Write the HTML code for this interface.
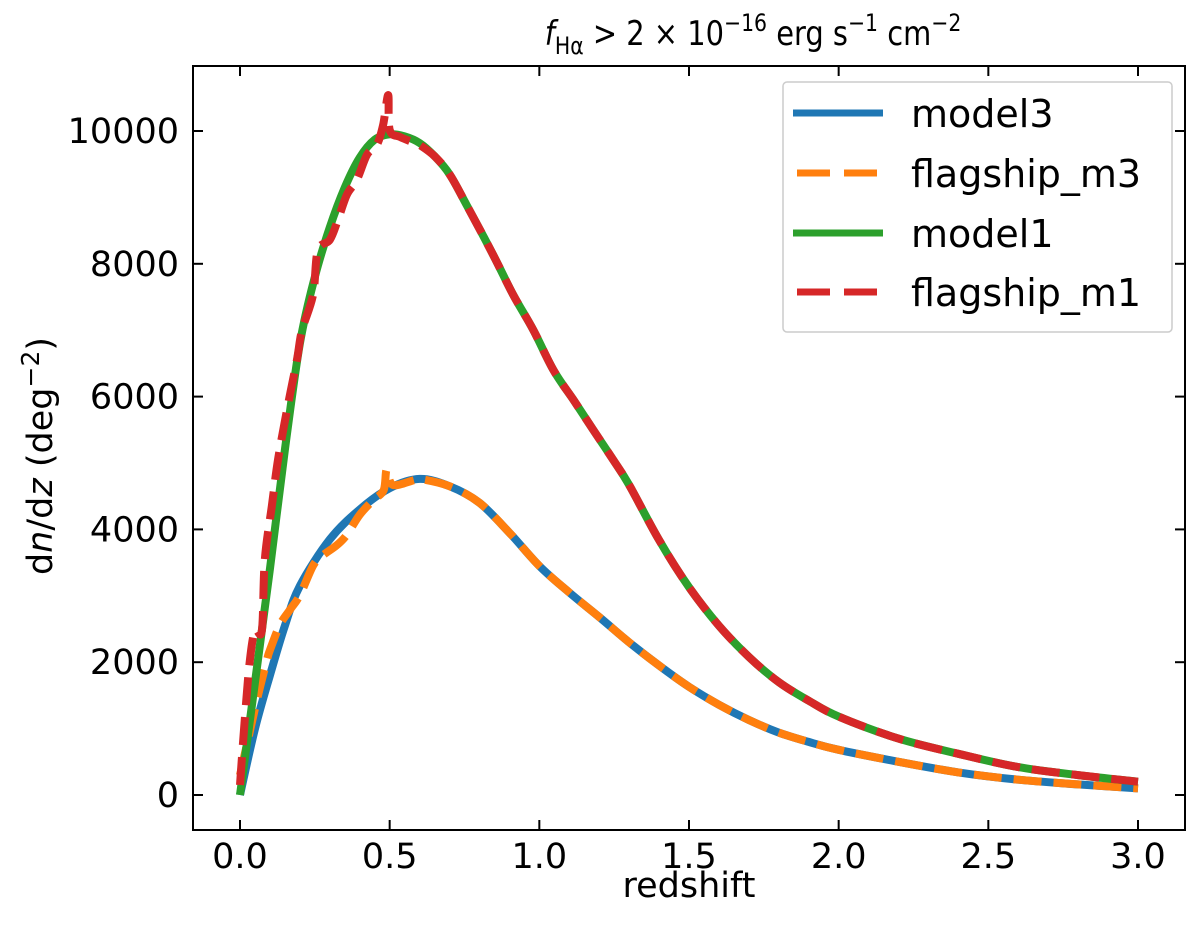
<!DOCTYPE html>
<html><head><meta charset="utf-8"><style>
body{margin:0;background:#fff}
svg text{font-family:"DejaVu Sans","Liberation Sans",sans-serif;fill:#000}
</style></head><body>
<svg id="chart" width="1200" height="925" viewBox="0 0 1200 925" xmlns="http://www.w3.org/2000/svg">
<g id="plot"></g>
<g id="axes"></g>
<text transform="translate(753,45) scale(0.85,1)" x="0" y="0" font-size="34" text-anchor="middle"><tspan font-style="italic">f</tspan><tspan font-size="24" dy="9">Hα</tspan><tspan dy="-9"> &gt; 2 × 10</tspan><tspan font-size="24" dy="-14">−16</tspan><tspan dy="14"> erg s</tspan><tspan font-size="24" dy="-14">−1</tspan><tspan dy="14"> cm</tspan><tspan font-size="24" dy="-14">−2</tspan></text>
<text x="689" y="897" font-size="35" text-anchor="middle">redshift</text>
<text transform="translate(52,456) rotate(-90)" font-size="35" text-anchor="middle">d<tspan font-style="italic">n</tspan>/d<tspan font-style="italic">z</tspan> (deg<tspan font-size="25" dy="-13">−2</tspan><tspan dy="13">)</tspan></text>
<g>
<rect x="783" y="82" width="389" height="250" rx="4" fill="#fff" fill-opacity="0.8" stroke="#ccc" stroke-width="1.5"/>
<line x1="793" y1="113" x2="883" y2="113" stroke="#1f77b4" stroke-width="7"/>
<text x="911" y="127" font-size="38">model3</text>
<line x1="797" y1="173" x2="883" y2="173" stroke="#ff7f0e" stroke-width="7" stroke-dasharray="33,14"/>
<text x="911" y="187" font-size="38">flagship_m3</text>
<line x1="793" y1="233" x2="883" y2="233" stroke="#2ca02c" stroke-width="7"/>
<text x="911" y="247" font-size="38">model1</text>
<line x1="797" y1="292" x2="883" y2="292" stroke="#d62728" stroke-width="7" stroke-dasharray="33,14"/>
<text x="911" y="306" font-size="38">flagship_m1</text>
</g>
</svg>
<script>
const xTicks=[0,0.5,1,1.5,2,2.5,3];
const xTickLabels=["0.0","0.5","1.0","1.5","2.0","2.5","3.0"];
const yTicks=[0,2000,4000,6000,8000,10000];
const yTickLabels=["0","2000","4000","6000","8000","10000"];
const model1Z=[0,0.05,0.1,0.15,0.2,0.25,0.3,0.35,0.4,0.45,0.5,0.55,0.6,0.65,0.7,0.757,0.846,0.913,0.98,1.047,1.114,1.18,1.247,1.3,1.4,1.5,1.6,1.7,1.8,1.9,2.0,2.2,2.4,2.6,2.8,3.0];
const model1N=[0,1700,3400,5200,6800,7800,8550,9150,9600,9870,9950,9920,9820,9620,9350,8886,8133,7530,7003,6400,5950,5500,5045,4670,3840,3130,2550,2080,1700,1420,1180,850,620,420,300,200];
const model3Z=[0,0.05,0.1,0.15,0.2,0.3,0.4,0.5,0.6,0.7,0.8,0.9,1.0,1.1,1.2,1.3,1.4,1.5,1.6,1.7,1.8,1.9,2.0,2.2,2.4,2.6,2.8,3.0];
const model3N=[0,1000,1800,2550,3150,3850,4300,4620,4760,4650,4400,3950,3450,3050,2680,2300,1950,1630,1360,1130,940,800,680,500,340,230,160,100];
const flagM1Z=[0,0.017,0.033,0.05,0.073,0.083,0.107,0.127,0.157,0.19,0.207,0.244,0.26,0.3,0.327,0.357,0.39,0.424,0.457,0.478,0.495,0.5,0.535,0.578,0.6,0.65,0.7,0.757,0.846,0.913,0.98,1.047,1.114,1.18,1.247,1.3,1.4,1.5,1.6,1.7,1.8,1.9,2.0,2.2,2.4,2.6,2.8,3.0];
const flagM1N=[150,1200,2030,2480,2480,3540,4370,5050,5800,6550,7000,7530,8200,8360,8660,9040,9260,9640,9790,10090,10540,10015,9910,9830,9790,9620,9350,8886,8133,7530,7003,6400,5950,5500,5045,4670,3840,3130,2550,2080,1700,1420,1180,850,620,420,300,200];
const flagM3Z=[0,0.03,0.06,0.09,0.1,0.133,0.167,0.2,0.245,0.277,0.323,0.357,0.4,0.445,0.48,0.49,0.51,0.58,0.6,0.7,0.8,0.9,1.0,1.1,1.2,1.3,1.4,1.5,1.6,1.7,1.8,1.9,2.0,2.2,2.4,2.6,2.8,3.0];
const flagM3N=[300,900,1500,2030,2180,2560,2790,3010,3460,3610,3760,3920,4220,4440,4590,4900,4670,4740,4760,4650,4400,3950,3450,3050,2680,2300,1950,1630,1360,1130,940,800,680,500,340,230,160,100];

const L=193,R=1185,T=66,B=830;
const xs=z=>240+z*(1138-240)/3;
const ys=v=>795-v*(795-131)/10000;
const NS="http://www.w3.org/2000/svg";
const plot=document.getElementById('plot'),axes=document.getElementById('axes');
function mk(tag,attrs,parent){const e=document.createElementNS(NS,tag);for(const k in attrs)e.setAttribute(k,attrs[k]);parent.appendChild(e);return e;}
const clip=mk('clipPath',{id:'c'},plot);mk('rect',{x:L,y:T,width:R-L,height:B-T},clip);
function smoothPath(P){
  let d='M'+P[0][0].toFixed(1)+','+P[0][1].toFixed(1);
  for(let i=0;i<P.length-1;i++){
    const p0=P[Math.max(i-1,0)],p1=P[i],p2=P[i+1],p3=P[Math.min(i+2,P.length-1)];
    const c1=[p1[0]+(p2[0]-p0[0])/6,p1[1]+(p2[1]-p0[1])/6];
    const c2=[p2[0]-(p3[0]-p1[0])/6,p2[1]-(p3[1]-p1[1])/6];
    d+=' C'+c1.map(v=>v.toFixed(1)).join(',')+' '+c2.map(v=>v.toFixed(1)).join(',')+' '+p2[0].toFixed(1)+','+p2[1].toFixed(1);
  }
  return d;
}
function series(Z,N,color,dash,name){
  const P=Z.map((z,i)=>[xs(z),ys(N[i])]);
  const p=mk('path',{d:smoothPath(P),fill:'none',stroke:color,'stroke-width':8,'stroke-linejoin':'round','clip-path':'url(#c)'},plot);
  if(dash)p.setAttribute('stroke-dasharray',dash);
  
  
}
series(model3Z,model3N,'#1f77b4',null,'line-model3');
series(flagM3Z,flagM3N,'#ff7f0e','28,12','line-flagship-m3');
series(model1Z,model1N,'#2ca02c',null,'line-model1');
series(flagM1Z,flagM1N,'#d62728','28,12','line-flagship-m1');
const frame=mk('rect',{x:L,y:T,width:R-L,height:B-T,fill:'none',stroke:'#000','stroke-width':2},axes);


xTicks.forEach((t,i)=>{const x=xs(t);
  mk('line',{x1:x,y1:B,x2:x,y2:B-10,stroke:'#000','stroke-width':2},axes);
  mk('line',{x1:x,y1:T,x2:x,y2:T+10,stroke:'#000','stroke-width':2},axes);
  const tx=mk('text',{x:x,y:B+38,'font-size':35,'text-anchor':'middle'},axes);tx.textContent=xTickLabels[i];
  
  
});
yTicks.forEach((t,i)=>{const y=ys(t);
  mk('line',{x1:L,y1:y,x2:L+10,y2:y,stroke:'#000','stroke-width':2},axes);
  mk('line',{x1:R,y1:y,x2:R-10,y2:y,stroke:'#000','stroke-width':2},axes);
  const tx=mk('text',{x:L-14,y:y+12,'font-size':35,'text-anchor':'end'},axes);tx.textContent=yTickLabels[i];
  
  
});
</script>
</body></html>
